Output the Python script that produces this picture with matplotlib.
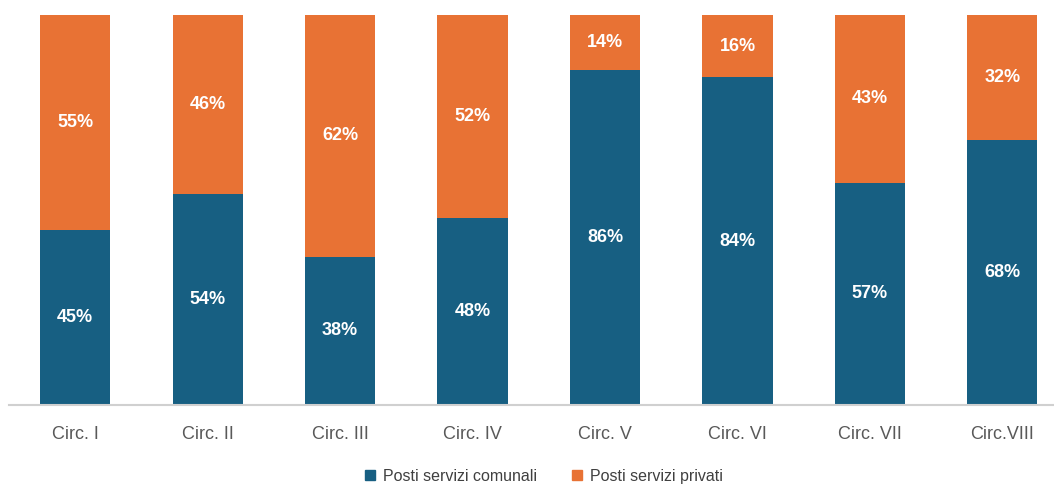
import matplotlib
matplotlib.use("Agg")
import matplotlib.pyplot as plt
import numpy as np
from matplotlib.patches import Patch

# data
circ_labels = ["Circ. I", "Circ. II", "Circ. III", "Circ. IV", "Circ. V", "Circ. VI", "Circ. VII", "Circ.VIII"]
comunali = [45, 54, 38, 48, 86, 84, 57, 68]
privati = [55, 46, 62, 52, 14, 16, 43, 32]

BLUE = "#175f82"
ORANGE = "#e87234"
FONT = ["Liberation Sans", "DejaVu Sans"]

fig = plt.figure(figsize=(10.54, 4.86), dpi=100)
ax = fig.add_axes([9 / 1054, 81 / 486, 1045 / 1054, 390 / 486])

x = np.arange(len(circ_labels))
w = 0.53
ax.bar(x, comunali, width=w, color=BLUE, label="Posti servizi comunali")
ax.bar(x, privati, width=w, bottom=comunali, color=ORANGE, label="Posti servizi privati")

for i in range(len(x)):
    ax.text(x[i], comunali[i] / 2, f"{comunali[i]}%", ha="center", va="center",
            color="white", fontsize=13, fontweight="bold", family=FONT)
    ax.text(x[i], comunali[i] + privati[i] / 2, f"{privati[i]}%", ha="center", va="center",
            color="white", fontsize=13, fontweight="bold", family=FONT)

ax.set_xlim(-0.5, 7.39)
ax.set_ylim(0, 100)
ax.set_yticks([])
ax.set_xticks(x)
ax.set_xticklabels(circ_labels, family=FONT, fontsize=13, color="#595959")
ax.tick_params(axis="x", length=0, pad=15)
for s in ["top", "right", "left"]:
    ax.spines[s].set_visible(False)
ax.spines["bottom"].set_color("#d0d0d0")
ax.spines["bottom"].set_linewidth(1.5)

handles = [Patch(color=BLUE, label="Posti servizi comunali"),
           Patch(color=ORANGE, label="Posti servizi privati")]
fig.legend(handles=handles, loc="lower center", bbox_to_anchor=(0.516, -0.025), ncol=2,
           frameon=False, prop={"family": FONT, "size": 11.5}, labelcolor="#404040",
           handlelength=0.6, handleheight=0.6, columnspacing=2.2, handletextpad=0.5)

fig.savefig("out.png", dpi=100)
